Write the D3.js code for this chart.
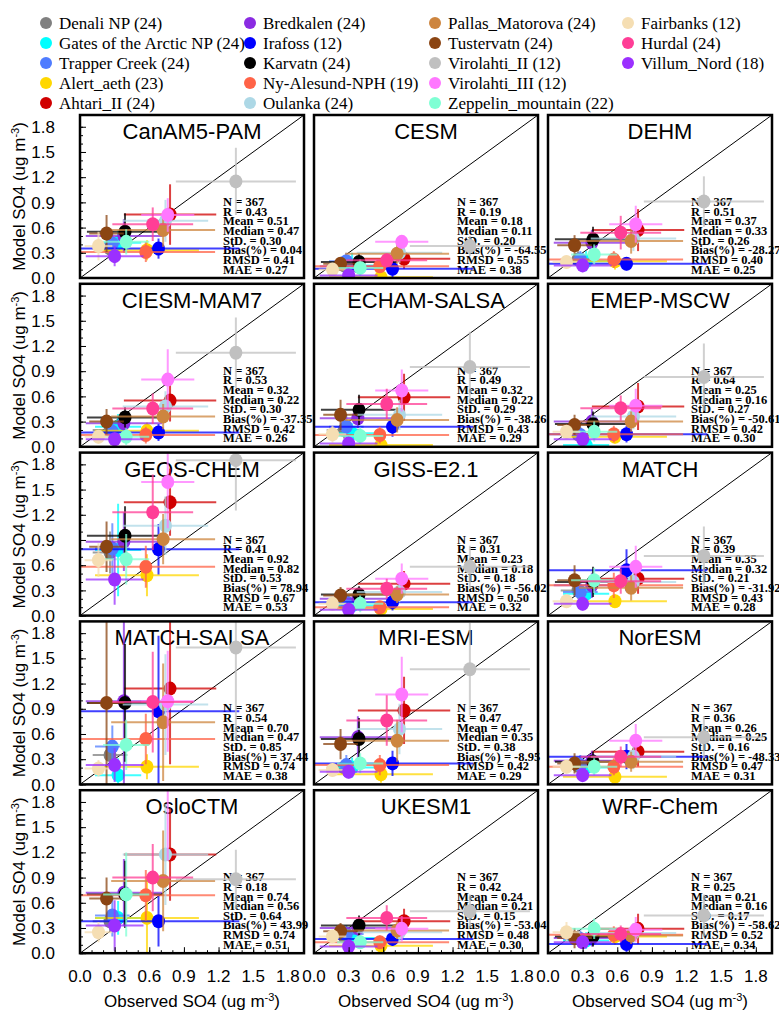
<!DOCTYPE html>
<html><head><meta charset="utf-8">
<script src="https://cdn.jsdelivr.net/npm/d3@7"></script>
<style>body{margin:0;background:#fff}svg{display:block}</style>
</head><body>
<script>
// ---------- DATA ----------
const sites = ["Denali NP","Gates of the Arctic NP","Trapper Creek","Alert_aeth","Ahtari_II",
  "Bredkalen","Irafoss","Karvatn","Ny-Alesund-NPH","Oulanka",
  "Pallas_Matorova","Tustervatn","Virolahti_II","Virolahti_III","Zeppelin_mountain",
  "Fairbanks","Hurdal","Villum_Nord"];
const siteCounts = [24,24,24,23,24, 24,12,24,19,24, 24,24,12,12,22, 12,24,18];
const siteColors = ["#808080","#00FFFF","#4F7CFF","#FFD700","#D00000",
  "#8A2BE2","#0000FF","#000000","#FF6347","#ADD8E6",
  "#CD853F","#8B4513","#C0C0C0","#FF77FF","#7FFFD4",
  "#F5DEB3","#FF3E96","#9B30FF"];
// observed mean and std (same in every panel)
const obsMean = [0.26,0.33,0.28,0.58,0.78, 0.38,0.68,0.39,0.57,0.74, 0.72,0.23,1.35,0.76,0.40, 0.16,0.63,0.30];
const obsErr  = [0.15,0.20,0.15,0.45,0.40, 0.33,0.70,0.33,0.60,0.37, 0.45,0.15,0.52,0.23,0.20, 0.12,0.35,0.25];

const models = ["CanAM5-PAM","CESM","DEHM","CIESM-MAM7","ECHAM-SALSA","EMEP-MSCW",
  "GEOS-CHEM","GISS-E2.1","MATCH","MATCH-SALSA","MRI-ESM","NorESM","OsloCTM","UKESM1","WRF-Chem"];
// model means per site (rows follow models order)
const modelMean = [
  [0.35,0.42,0.41,0.33,0.755,0.50,0.35,0.55,0.31,0.68,0.57,0.53,1.15,0.75,0.43,0.38,0.64,0.26],
  [0.15,0.15,0.20,0.01,0.23,0.14,0.11,0.19,0.14,0.30,0.29,0.17,0.38,0.43,0.12,0.10,0.21,0.03],
  [0.22,0.20,0.22,0.20,0.57,0.42,0.17,0.46,0.22,0.47,0.44,0.39,0.91,0.64,0.28,0.19,0.54,0.15],
  [0.20,0.24,0.18,0.19,0.55,0.28,0.17,0.35,0.14,0.48,0.36,0.30,1.12,0.80,0.12,0.12,0.455,0.09],
  [0.20,0.16,0.24,0.02,0.59,0.34,0.24,0.44,0.14,0.38,0.32,0.38,0.95,0.67,0.13,0.15,0.51,0.04],
  [0.15,0.02,0.14,0.12,0.48,0.30,0.15,0.27,0.15,0.36,0.30,0.26,0.83,0.49,0.18,0.18,0.46,0.09],
  [0.75,0.78,0.80,0.48,1.35,0.88,0.79,0.95,0.58,1.07,0.91,0.82,1.85,1.59,0.67,0.66,1.23,0.43],
  [0.15,0.12,0.16,0.08,0.38,0.20,0.16,0.25,0.10,0.28,0.25,0.24,0.58,0.44,0.14,0.14,0.32,0.07],
  [0.30,0.26,0.28,0.17,0.44,0.36,0.54,0.40,0.36,0.40,0.33,0.42,0.71,0.58,0.42,0.17,0.41,0.14],
  [0.35,0.11,0.45,0.21,1.14,0.99,0.87,0.97,0.54,0.95,0.74,0.97,1.63,0.99,0.47,0.19,0.98,0.23],
  [0.20,0.20,0.23,0.12,0.88,0.56,0.25,0.54,0.23,0.66,0.52,0.48,1.37,1.07,0.25,0.17,0.76,0.15],
  [0.22,0.20,0.23,0.09,0.39,0.28,0.33,0.27,0.21,0.33,0.27,0.25,0.56,0.52,0.21,0.21,0.33,0.11],
  [0.38,0.42,0.45,0.42,1.175,0.72,0.38,0.70,0.69,1.175,0.86,0.65,0.88,2.30,0.70,0.25,0.90,0.33],
  [0.20,0.18,0.23,0.09,0.38,0.30,0.17,0.33,0.13,0.25,0.27,0.26,0.50,0.29,0.13,0.20,0.42,0.08],
  [0.18,0.15,0.17,0.20,0.29,0.18,0.11,0.20,0.22,0.24,0.21,0.18,0.45,0.28,0.29,0.25,0.23,0.13]
];
// model std per site
const modelErr = [
  [0.12,0.15,0.15,0.12,0.36,0.20,0.12,0.22,0.12,0.25,0.20,0.22,0.40,0.20,0.15,0.17,0.20,0.12],
  [0.08,0.15,0.10,0.05,0.12,0.08,0.10,0.10,0.08,0.12,0.12,0.08,0.12,0.08,0.10,0.06,0.08,0.05],
  [0.10,0.12,0.10,0.10,0.25,0.15,0.08,0.15,0.10,0.15,0.15,0.12,0.30,0.22,0.12,0.08,0.20,0.08],
  [0.12,0.15,0.10,0.10,0.25,0.12,0.10,0.12,0.10,0.18,0.15,0.15,0.42,0.36,0.10,0.08,0.18,0.08],
  [0.10,0.12,0.15,0.05,0.28,0.12,0.12,0.18,0.10,0.18,0.15,0.18,0.42,0.25,0.10,0.10,0.18,0.05],
  [0.10,0.05,0.10,0.08,0.28,0.15,0.10,0.15,0.10,0.15,0.12,0.12,0.40,0.20,0.12,0.08,0.15,0.08],
  [0.25,0.55,0.30,0.25,0.40,0.35,0.30,0.35,0.25,0.35,0.30,0.30,0.60,0.55,0.30,0.20,0.45,0.30],
  [0.08,0.08,0.08,0.05,0.15,0.10,0.10,0.10,0.06,0.12,0.10,0.10,0.25,0.18,0.10,0.06,0.12,0.05],
  [0.10,0.12,0.12,0.08,0.18,0.15,0.25,0.18,0.15,0.15,0.15,0.18,0.35,0.25,0.15,0.08,0.15,0.08],
  [0.15,0.20,0.25,0.15,0.90,1.00,0.90,0.70,0.30,0.60,0.70,1.10,1.10,0.60,0.30,0.10,0.60,0.20],
  [0.10,0.12,0.12,0.10,0.40,0.25,0.15,0.25,0.12,0.30,0.25,0.18,0.55,0.45,0.12,0.08,0.30,0.08],
  [0.10,0.10,0.12,0.05,0.18,0.12,0.15,0.12,0.10,0.15,0.12,0.12,0.25,0.20,0.10,0.08,0.12,0.06],
  [0.12,0.20,0.25,0.50,0.55,0.40,0.30,0.40,0.30,0.60,0.60,0.25,0.35,1.20,0.50,0.12,0.40,0.30],
  [0.08,0.08,0.10,0.05,0.15,0.10,0.08,0.12,0.08,0.12,0.10,0.10,0.20,0.15,0.08,0.06,0.15,0.05],
  [0.10,0.10,0.10,0.10,0.18,0.10,0.10,0.12,0.10,0.12,0.10,0.12,0.25,0.15,0.12,0.12,0.10,0.08]
];
// statistics text per model
const statR      = ["0.43","0.19","0.51","0.53","0.49","0.64","0.41","0.31","0.39","0.54","0.47","0.36","0.18","0.42","0.25"];
const statMean   = ["0.51","0.18","0.37","0.32","0.32","0.25","0.92","0.23","0.35","0.70","0.47","0.26","0.74","0.24","0.21"];
const statMedian = ["0.47","0.11","0.33","0.22","0.22","0.16","0.82","0.18","0.32","0.47","0.35","0.25","0.56","0.21","0.16"];
const statStd    = ["0.30","0.20","0.26","0.30","0.29","0.27","0.53","0.18","0.21","0.85","0.38","0.16","0.64","0.15","0.17"];
const statBias   = ["0.04","-64.55","-28.27","-37.35","-38.26","-50.61","78.94","-56.02","-31.92","37.44","-8.95","-48.33","43.99","-53.04","-58.62"];
const statRmsd   = ["0.41","0.55","0.40","0.42","0.43","0.42","0.67","0.50","0.43","0.74","0.42","0.47","0.74","0.48","0.52"];
const statMae    = ["0.27","0.38","0.25","0.26","0.29","0.30","0.53","0.32","0.28","0.38","0.29","0.31","0.51","0.30","0.34"];
const statN = "367";
const tickValues = [0.0,0.3,0.6,0.9,1.2,1.5,1.8];

// ---------- LAYOUT ----------
const W = 779, H = 1012;
const colX = [80, 314, 548], pw = 224, ph = 163;
const rowY = d3.range(5).map(r => 115 + r * 168.8);
const dom = [0, 1.94];
const sans = "'Liberation Sans', Arial, Helvetica, sans-serif";
const serif = "'Liberation Serif', 'Times New Roman', serif";

const svg = d3.select("body").append("svg").attr("width", W).attr("height", H);
const x = d3.scaleLinear().domain(dom).range([0, pw]);
const y = d3.scaleLinear().domain(dom).range([ph, 0]);

// ---------- LEGEND ----------
const legX = [46, 250, 435, 628], legY = [23, 43, 63, 83, 103];
const leg = svg.append("g");
sites.forEach((s, i) => {
  const c = Math.floor(i / 5), r = i % 5;
  leg.append("circle").attr("cx", legX[c]).attr("cy", legY[r]).attr("r", 6).attr("fill", siteColors[i]);
  leg.append("text").attr("x", legX[c] + 13).attr("y", legY[r] + 6)
    .attr("font-family", serif).attr("font-size", 17).attr("fill", "#000")
    .text(`${s} (${siteCounts[i]})`);
});

const defs = svg.append("defs");
defs.append("clipPath").attr("id", "pclip").append("rect").attr("width", pw).attr("height", ph);

models.forEach((m, k) => {
  const r = Math.floor(k / 3), c = k % 3;
  const g = svg.append("g").attr("transform", `translate(${colX[c]},${rowY[r]})`);

  // title
  g.append("text").attr("x", pw / 2).attr("y", 24).attr("text-anchor", "middle")
    .attr("font-family", sans).attr("font-size", 22).text(m);

  // 1:1 line
  g.append("line").attr("x1", x(0)).attr("y1", y(0)).attr("x2", x(dom[1])).attr("y2", y(dom[1]))
    .attr("stroke", "#000").attr("stroke-width", 1);

  // stats text
  const lines = [`N = ${statN}`, `R = ${statR[k]}`, `Mean = ${statMean[k]}`, `Median = ${statMedian[k]}`,
    `StD. = ${statStd[k]}`, `Bias(%) = ${statBias[k]}`, `RMSD = ${statRmsd[k]}`, `MAE = ${statMae[k]}`];
  lines.forEach((t, j) => {
    g.append("text").attr("x", 143).attr("y", 91 + j * 9.66)
      .attr("font-family", serif).attr("font-weight", "bold").attr("font-size", 12.5).text(t);
  });

  // points
  const pg = g.append("g").attr("clip-path", "url(#pclip)");
  sites.forEach((s, i) => {
    const ox = obsMean[i], oe = obsErr[i], my = modelMean[k][i], me = modelErr[k][i];
    pg.append("line").attr("x1", x(Math.max(0, ox - oe))).attr("x2", x(ox + oe))
      .attr("y1", y(my)).attr("y2", y(my))
      .attr("stroke", siteColors[i]).attr("stroke-width", 2).attr("stroke-opacity", 0.75);
    pg.append("line").attr("x1", x(ox)).attr("x2", x(ox))
      .attr("y1", y(Math.max(0, my - me))).attr("y2", y(my + me))
      .attr("stroke", siteColors[i]).attr("stroke-width", 2).attr("stroke-opacity", 0.75);
    pg.append("ellipse").attr("cx", x(ox)).attr("cy", y(my)).attr("rx", 6.5).attr("ry", 7)
      .attr("fill", siteColors[i]);
  });

  // ticks
  if (c === 0) {
    const ay = g.append("g").call(d3.axisRight(y).tickValues(d3.range(0, 19).map(v => v / 10)).tickSize(3).tickFormat(""));
    ay.select(".domain").remove();
    const ay2 = g.append("g").call(d3.axisRight(y).tickValues(tickValues).tickSize(6).tickFormat(""));
    ay2.select(".domain").remove();
    tickValues.forEach(v => {
      g.append("text").attr("x", -25).attr("y", y(v)).attr("dy", "0.36em").attr("text-anchor", "end")
        .attr("font-family", sans).attr("font-size", 17).text(v.toFixed(1));
    });
    const yl = g.append("text").attr("transform", `translate(-55,${ph / 2}) rotate(-90)`)
      .attr("text-anchor", "middle").attr("font-family", sans).attr("font-size", 17);
    yl.append("tspan").text("Model SO4 (ug m");
    yl.append("tspan").attr("dy", -6).attr("font-size", 11).text("-3");
    yl.append("tspan").attr("dy", 6).text(")");
  }
  if (r === 4) {
    const ax = g.append("g").attr("transform", `translate(0,${ph})`)
      .call(d3.axisTop(x).tickValues(d3.range(0, 19).map(v => v / 10)).tickSize(3).tickFormat(""));
    ax.select(".domain").remove();
    const ax2 = g.append("g").attr("transform", `translate(0,${ph})`)
      .call(d3.axisTop(x).tickValues(tickValues).tickSize(6).tickFormat(""));
    ax2.select(".domain").remove();
    tickValues.forEach(v => {
      g.append("text").attr("x", x(v)).attr("y", ph + 29).attr("text-anchor", "middle")
        .attr("font-family", sans).attr("font-size", 17).text(v.toFixed(1));
    });
    const xl = g.append("text").attr("x", pw / 2).attr("y", ph + 54).attr("text-anchor", "middle")
      .attr("font-family", sans).attr("font-size", 17);
    xl.append("tspan").text("Observed SO4 (ug m");
    xl.append("tspan").attr("dy", -6).attr("font-size", 11).text("-3");
    xl.append("tspan").attr("dy", 6).text(")");
  }

  // frame
  g.append("rect").attr("width", pw).attr("height", ph).attr("fill", "none")
    .attr("stroke", "#000").attr("stroke-width", 2.5);
});
</script>
</body></html>
